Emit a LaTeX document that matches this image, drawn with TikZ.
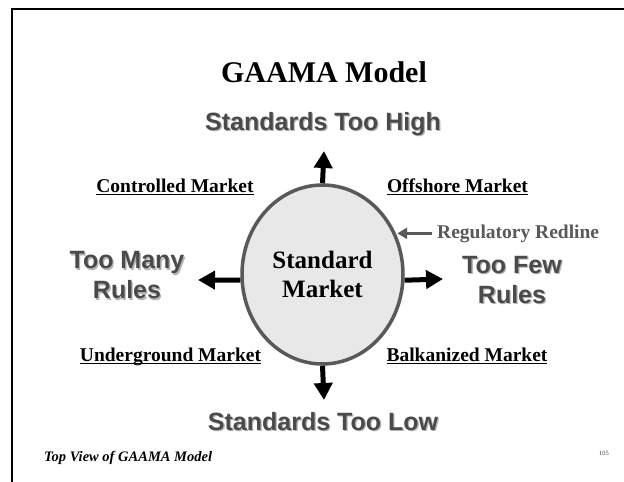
\documentclass[tikz,border=0pt]{standalone}
\usepackage{fontspec}
\setmainfont{Liberation Serif}
\setsansfont{Liberation Sans}
\usetikzlibrary{shapes.geometric,arrows.meta}
\definecolor{labelgray}{HTML}{4A4A4A}
\definecolor{shadegray}{HTML}{B4B4B4}
\definecolor{rimgray}{HTML}{595959}
\definecolor{innergray}{HTML}{E8E8E8}
\newcommand{\shtxt}[1]{\leavevmode\rlap{\kern1.3pt\raisebox{-1.3pt}{\textcolor{shadegray}{#1}}}#1}
\newcommand{\mkul}[1]{\setbox0\hbox{#1}\rlap{\raisebox{-2.8pt}{\rule{\wd0}{1.3pt}}}\box0}
\tikzstyle{market} = [ellipse, draw=rimgray, line width=3.5pt, fill=innergray,
    minimum width=161pt, minimum height=179pt, inner sep=0pt, align=center,
    font=\bfseries\fontsize{25}{29}\selectfont]
\tikzstyle{heading} = [inner sep=0pt, text=labelgray, align=center,
    font=\sffamily\bfseries\fontsize{25}{30}\selectfont]
\tikzstyle{corner} = [inner sep=0pt, font=\bfseries\fontsize{19.5}{23}\selectfont]
\tikzstyle{bigline} = [draw, line width=5pt, -{Triangle[length=17pt 0 0, width=18pt 0 0]}]
\tikzstyle{redline} = [draw, rimgray, line width=3pt, -{Triangle[length=10pt 0 0, width=11pt 0 0]}]

\begin{document}
\begin{tikzpicture}[x=1pt, y=-1pt]
    \useasboundingbox (0,0) rectangle (624,482);
    % frame
    \draw[line width=2pt] (12,482) -- (12,9) -- (624,9);
    % Place nodes
    \node[anchor=base, inner sep=0pt, font=\bfseries\fontsize{30}{36}\selectfont] (title) at (324,82) {GAAMA Model};
    \node[heading, anchor=base] (high) at (323,130) {\shtxt{Standards Too High}};
    \node[market] (std) at (322.5,274.5) {Standard\\Market};
    \node[heading] (many) at (127,276) {\shtxt{Too Many}\\\shtxt{Rules}};
    \node[heading] (few) at (512,280.5) {\shtxt{Too Few}\\\shtxt{Rules}};
    \node[heading, anchor=base] (low) at (323,430) {\shtxt{Standards Too Low}};
    \node[corner, anchor=base] (controlled) at (175,192) {\mkul{Controlled Market}};
    \node[corner, anchor=base] (offshore) at (457.5,192) {\mkul{Offshore Market}};
    \node[corner, anchor=base] (underground) at (170.5,361) {\mkul{Underground Market}};
    \node[corner, anchor=base] (balkan) at (467,361) {\mkul{Balkanized Market}};
    \node[corner, anchor=base west, text=rimgray] (redtext) at (437,238) {Regulatory Redline};
    \node[anchor=base west, inner sep=0pt, font=\bfseries\itshape\fontsize{14.5}{17}\selectfont] (caption) at (44,461) {Top View of GAAMA Model};
    \node[inner sep=0pt, font=\fontsize{6.5}{8}\selectfont, text=labelgray] (page) at (604,453) {105};
    \coordinate (tipU) at (324,151);
    \coordinate (tipD) at (324,400);
    \coordinate (tipL) at (198,280);
    \coordinate (tipR) at (443,279);
    % Draw edges
    \path[bigline] (std.north) -- (tipU);
    \path[bigline] (std.south) -- (tipD);
    \path[bigline] (std.184) -- (tipL);
    \path[bigline] (std.356) -- (tipR);
    \path[redline, shorten <=5pt] (redtext.west) -- (redtext.west -| std.27);
\end{tikzpicture}
\end{document}
